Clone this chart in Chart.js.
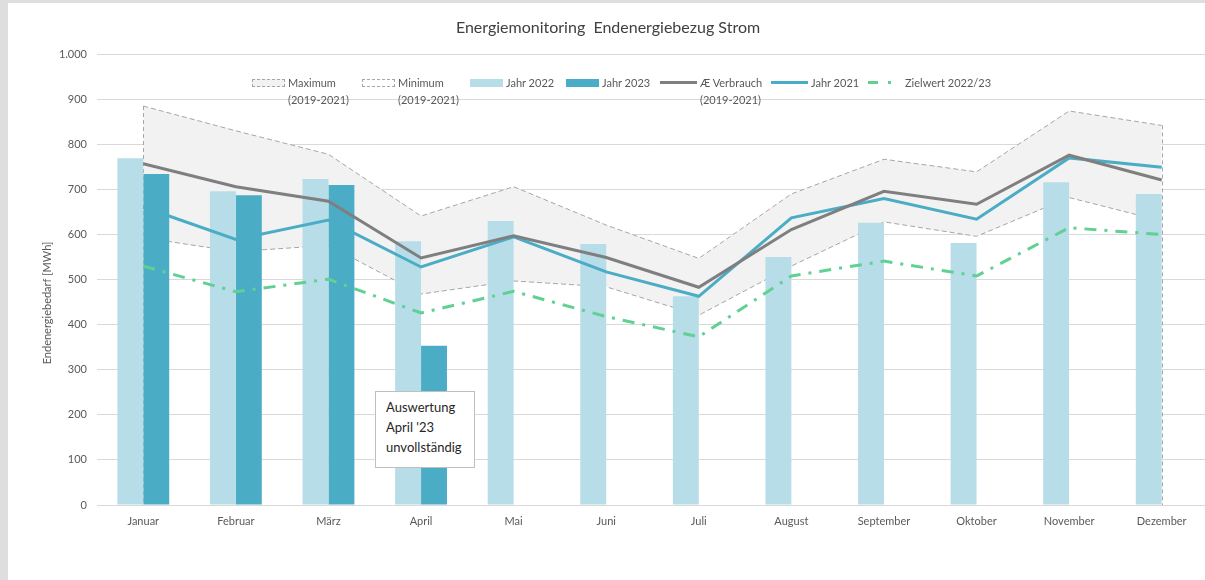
<!DOCTYPE html>
<html>
<head>
<meta charset="utf-8">
<script src="https://cdn.jsdelivr.net/npm/chart.js@4.4.1/dist/chart.umd.min.js"></script>
<style>
  html, body { margin: 0; padding: 0; width: 1205px; height: 580px; overflow: hidden; background: #dedede; }
  #frame { position: absolute; left: 8px; top: 3px; width: 1210px; height: 577px; background: #fff; }
  #frame canvas { position: absolute; left: 0; top: 0; }
  #legend { position: absolute; left: 0; top: 0; font-family: Lato, sans-serif; font-size: 11px; color: #595959; }
  .item { position: absolute; top: 71px; display: flex; align-items: flex-start; white-space: nowrap; line-height: 17px; }
  .mark { margin-right: 3px; flex: none; }
  #note { position: absolute; left: 367px; top: 388px; width: 88px; height: 70px; padding: 5px 0 0 10px;
          background: #fff; border: 1px solid #bfbfbf; font-family: Lato, sans-serif; font-size: 13px;
          line-height: 20px; color: #262626; }
</style>
</head>
<body>
<div id="frame">
  <canvas id="chart" width="1210" height="577"></canvas>
  <div id="legend"></div>
  <div id="note">Auswertung<br>April '23<br>unvollständig</div>
</div>
<script>
const months = ['Januar', 'Februar', 'März', 'April', 'Mai', 'Juni', 'Juli', 'August', 'September', 'Oktober', 'November', 'Dezember'];
const maxValues = [885, 830, 778, 641, 706, 621, 547, 690, 767, 739, 874, 842];
const minValues = [593, 562, 576, 468, 497, 484, 421, 530, 628, 596, 682, 630];
const jahr2022 = [769, 696, 723, 585, 630, 579, 463, 550, 626, 581, 716, 690];
const jahr2023 = [734, 687, 710, 353, null, null, null, null, null, null, null, null];
const avgValues = [757, 706, 674, 548, 597, 549, 483, 611, 696, 667, 776, 721];
const jahr2021 = [661, 589, 632, 528, 595, 517, 463, 637, 680, 634, 770, 749];
const zielwert = [530, 473, 501, 426, 474, 418, 373, 508, 541, 508, 615, 600];

const fontFamily = 'Lato, sans-serif';
const grey = '#595959';

// dashed edges of the min/max band (Excel area border)
const edgePlugin = {
  id: 'areaEdges',
  afterDatasetDraw(chart, args) {
    if (args.index !== 1) return;
    const x = chart.scales.x, y = chart.scales.y, ctx = chart.ctx;
    ctx.save();
    ctx.strokeStyle = '#a6a6a6';
    ctx.lineWidth = 1;
    ctx.setLineDash([4, 3]);
    [0, months.length - 1].forEach(i => {
      const px = Math.round(x.getPixelForValue(i)) + 0.5;
      ctx.beginPath();
      ctx.moveTo(px, y.getPixelForValue(maxValues[i]));
      ctx.lineTo(px, y.getPixelForValue(0));
      ctx.stroke();
    });
    ctx.restore();
  }
};

const yTitlePlugin = {
  id: 'yTitle',
  afterDraw(chart) {
    const ctx = chart.ctx;
    ctx.save();
    ctx.translate(39, 300);
    ctx.rotate(-Math.PI / 2);
    ctx.font = '11px ' + fontFamily;
    ctx.fillStyle = grey;
    ctx.textAlign = 'center';
    ctx.textBaseline = 'middle';
    ctx.fillText('Endenergiebedarf [MWh]', 0, 0);
    ctx.restore();
  }
};

const chart = new Chart(document.getElementById('chart'), {
  type: 'bar',
  data: {
    labels: months,
    datasets: [
      {
        type: 'line', label: 'Maximum\n(2019-2021)', data: maxValues, order: 3,
        borderColor: '#a6a6a6', borderWidth: 1, borderDash: [5, 3],
        backgroundColor: '#f2f2f2', fill: '+1', pointRadius: 0, tension: 0
      },
      {
        type: 'line', label: 'Minimum\n(2019-2021)', data: minValues, order: 2,
        borderColor: '#a6a6a6', borderWidth: 1, borderDash: [5, 3],
        backgroundColor: 'transparent', fill: false, pointRadius: 0, tension: 0
      },
      {
        label: 'Jahr 2022', data: jahr2022, order: 1,
        backgroundColor: '#b7dde8'
      },
      {
        label: 'Jahr 2023', data: jahr2023, order: 1,
        backgroundColor: '#4bacc6'
      },
      {
        type: 'line', label: 'Æ Verbrauch\n(2019-2021)', data: avgValues, order: 0,
        borderColor: '#7f7f7f', borderWidth: 3, pointRadius: 0, tension: 0, fill: false
      },
      {
        type: 'line', label: 'Jahr 2021', data: jahr2021, order: 0,
        borderColor: '#4bacc6', borderWidth: 3, pointRadius: 0, tension: 0, fill: false
      },
      {
        type: 'line', label: 'Zielwert 2022/23', data: zielwert, order: 0,
        borderColor: '#60d093', borderWidth: 3, borderDash: [12, 8, 3, 8],
        pointRadius: 0, tension: 0, fill: false
      }
    ]
  },
  options: {
    responsive: false,
    animation: false,
    categoryPercentage: 0.56,
    barPercentage: 1,
    layout: { padding: { left: 0, right: 10, top: 0, bottom: 0 } },
    plugins: {
      legend: { display: false },
      tooltip: { enabled: false },
      title: {
        display: true,
        text: 'Energiemonitoring  Endenergiebezug Strom',
        color: '#404040',
        font: { family: fontFamily, size: 16, weight: 'normal' },
        padding: { top: 15, bottom: 17 }
      }
    },
    scales: {
      x: {
        grid: { display: false },
        border: { display: false },
        ticks: { color: grey, font: { family: fontFamily, size: 11 }, padding: 2 },
        afterFit(s) { s.height = 75; }
      },
      y: {
        min: 0, max: 1000,
        grid: { color: '#d9d9d9', drawTicks: false },
        border: { display: false },
        ticks: {
          stepSize: 100, padding: 10, color: grey,
          font: { family: fontFamily, size: 11 },
          callback: v => v.toLocaleString('de-DE')
        },
        afterFit(s) { s.width = 89; }
      }
    }
  },
  plugins: [edgePlugin, yTitlePlugin]
});

// legend laid over the plot like the original
const legendLeft = [244, 354, 462, 558, 652, 763, 860];
const legend = document.getElementById('legend');
chart.data.datasets.forEach((ds, i) => {
  const item = document.createElement('div');
  item.className = 'item';
  item.style.left = legendLeft[i] + 'px';
  const mark = document.createElement('div');
  mark.className = 'mark';
  if (ds.type === 'line' && ds.fill !== false) {
    mark.style.cssText = 'width:31px;height:6px;margin-top:5px;border:1px dashed #a6a6a6;background:#f2f2f2';
  } else if (ds.type === 'line' && ds.borderWidth === 1) {
    mark.style.cssText = 'width:31px;height:6px;margin-top:5px;border:1px dashed #a6a6a6';
  } else if (ds.type !== 'line') {
    mark.style.cssText = 'width:33px;height:8px;margin-top:5px;background:' + ds.backgroundColor;
  } else if (ds.borderDash) {
    mark.style.cssText = 'width:34px;height:3px;margin-top:7px;background:linear-gradient(to right,' +
      ds.borderColor + ' 0 10px, transparent 10px 20px,' + ds.borderColor + ' 20px 23px, transparent 23px)';
  } else {
    mark.style.cssText = 'width:37px;height:3px;margin-top:7px;background:' + ds.borderColor;
  }
  const text = document.createElement('div');
  text.innerHTML = ds.label.split('\n').join('<br>');
  item.appendChild(mark);
  item.appendChild(text);
  legend.appendChild(item);
});
</script>
</body>
</html>
